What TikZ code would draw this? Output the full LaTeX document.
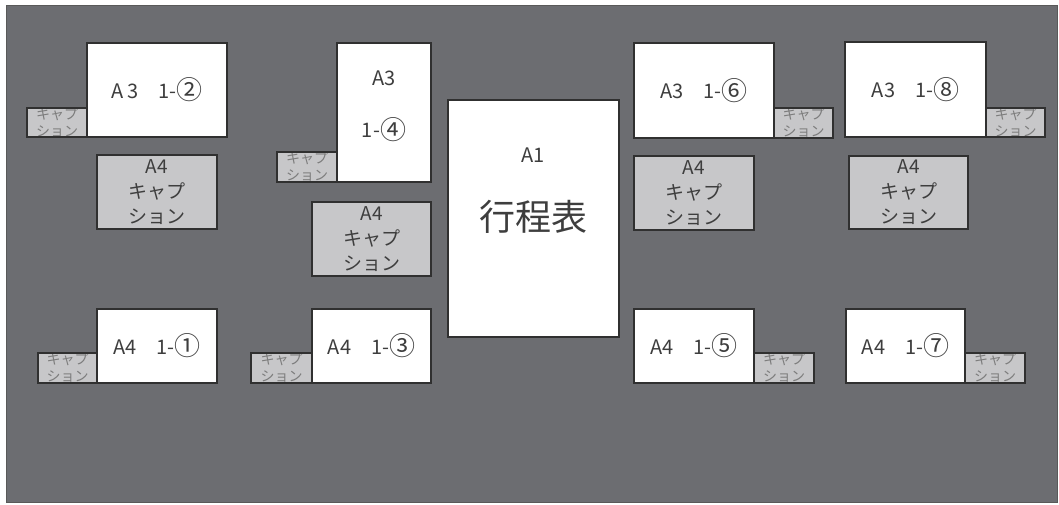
\documentclass[tikz,border=0pt]{standalone}
\usepackage{fontspec}
\usepackage{graphicx}
\setmainfont{Noto Sans CJK JP}
\definecolor{bggray}{HTML}{6C6D71}
\definecolor{capgray}{HTML}{C7C7C9}
\definecolor{linec}{HTML}{303030}
\definecolor{txt}{HTML}{3E3E3E}
\definecolor{smalltxt}{HTML}{7C7C7C}
\newcommand\cdg[1]{\raisebox{-1.8pt}{\scalebox{1.3}{#1}}}
\newcommand\mybox[7]{%
  \pgfmathsetmacro\bw{#5-#3}\pgfmathsetmacro\bh{#6-#4}%
  \pgfmathsetmacro\bx{(#3+#5)/2}\pgfmathsetmacro\by{(#4+#6)/2}%
  \node[#1, minimum width=\bw pt, minimum height=\bh pt] (#2) at (\bx,\by) {#7};}
\tikzset{
  sheet/.style={draw=linec, fill=white, line width=1.1pt, inner sep=0pt, text=txt,
    font=\fontsize{20}{25}\selectfont, align=center},
  bigcap/.style={draw=linec, fill=capgray, line width=1.1pt, inner sep=0pt, text=txt,
    font=\fontsize{19}{25}\selectfont, align=center},
  smallcap/.style={draw=linec, fill=capgray, line width=1.1pt, inner sep=0pt,
    path picture={\node[text=smalltxt, font=\fontsize{14}{17}\selectfont, align=center, inner sep=0pt]
      at ([yshift=0pt]path picture bounding box.center) {キャプ\\ション};}},
  lbl/.style={text=txt, inner sep=0pt, align=center}
}
\begin{document}
\begin{tikzpicture}[x=1pt,y=-1pt]
\useasboundingbox (0,0) rectangle (1059,504);
\fill[white] (0,0) rectangle (1059,504);
\node[draw=linec!80, fill=bggray, line width=1pt, inner sep=0pt, minimum width=1051pt, minimum height=497pt] (bg) at (531.5,253.5) {};
% top-left group
\mybox{smallcap}{c2}{27}{108}{87}{137}{}
\mybox{sheet}{s2}{87}{43}{227}{137}{A 3　1-\cdg{②}}
\mybox{bigcap}{a2}{97}{155}{217}{229}{A4\\キャプ\\ション}
% 1-4 group
\mybox{smallcap}{c4}{277}{152}{337}{182}{}
\mybox{sheet}{s4}{337}{43}{431}{182}{}
\node[lbl, font=\fontsize{20}{52}\selectfont] (t4) at ([yshift=6.5pt]s4.center) {A3\\1-\cdg{④}};
\mybox{bigcap}{a4}{312}{202}{431}{276}{A4\\キャプ\\ション}
% A1
\mybox{sheet}{a1}{448}{100}{619}{337}{}
\node[lbl, font=\fontsize{20}{22}\selectfont] (a1t) at (533,155) {A1};
\node[lbl, font=\fontsize{36}{40}\selectfont] (a1m) at (533,217) {行程表};
% 1-6 group
\mybox{smallcap}{c6}{774}{108}{833}{138}{}
\mybox{sheet}{s6}{634}{43}{774}{138}{A3　1-\cdg{⑥}}
\mybox{bigcap}{a6}{634}{156}{754}{230}{A4\\キャプ\\ション}
% 1-8 group
\mybox{smallcap}{c8}{986}{108}{1045}{137}{}
\mybox{sheet}{s8}{845}{42}{986}{137}{A3　1-\cdg{⑧}}
\mybox{bigcap}{a8}{849}{156}{968}{229}{A4\\キャプ\\ション}
% bottom row
\mybox{smallcap}{c1}{38}{353}{97}{383}{}
\mybox{sheet}{s1}{97}{309}{217}{383}{A4　1-\cdg{①}}
\mybox{smallcap}{c3}{251}{353}{312}{383}{}
\mybox{sheet}{s3}{312}{309}{431}{383}{A4　1-\cdg{③}}
\mybox{smallcap}{c5}{754}{353}{814}{383}{}
\mybox{sheet}{s5}{634}{309}{754}{383}{A4　1-\cdg{⑤}}
\mybox{smallcap}{c7}{965}{353}{1025}{383}{}
\mybox{sheet}{s7}{846}{309}{965}{383}{A4　1-\cdg{⑦}}
\end{tikzpicture}
\end{document}
